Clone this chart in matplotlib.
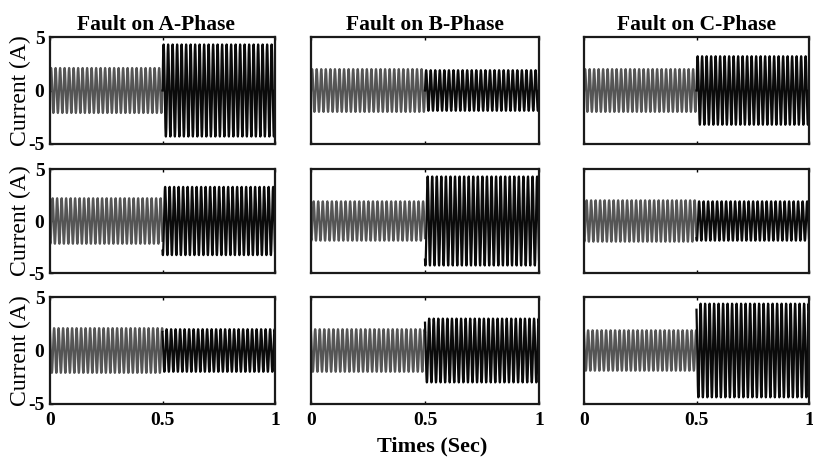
import numpy as np
import matplotlib
matplotlib.use("Agg")
import matplotlib.pyplot as plt

# Fault cases (columns) and measured phase currents (rows)
fault_titles = ["Fault on A-Phase", "Fault on B-Phase", "Fault on C-Phase"]
phase_rows = ["A", "B", "C"]

# Peak current (A) before and after fault inception at t = 0.5 s
pre_fault_amp = [
    [2.1, 2.0, 2.0],
    [2.2, 1.9, 2.0],
    [2.1, 2.0, 1.9],
]
post_fault_amp = [
    [4.3, 1.9, 3.2],
    [3.3, 4.3, 1.9],
    [2.0, 3.0, 4.4],
]

fault_time = 0.5
freq_hz = 50.0
sample_rate = 1000.0
x_ticks = [0, 0.5, 1]
x_tick_labels = ["0", "0.5", "1"]
y_ticks = [-5, 0, 5]
y_tick_labels = ["-5", "0", "5"]

W, H = 813, 462
fig = plt.figure(figsize=(W / 100, H / 100), dpi=100)

# axes boxes in pixels: (left, right) per column, (top, bottom) per row
col_px = [(50, 275), (311, 539), (584, 809)]
row_px = [(37, 144), (169, 273), (297, 404)]
title_x_shift = [-0.03, 0.0, 0.0]

serif = ["Liberation Serif", "DejaVu Serif"]
phase_offsets = [0.0, -2.0944, 2.0944]

for r in range(3):
    for c in range(3):
        l, rr = col_px[c]
        t, b = row_px[r]
        ax = fig.add_axes([l / W, 1 - b / H, (rr - l) / W, (b - t) / H])
        ph = phase_offsets[r]
        t_pre = np.arange(0, fault_time + 1e-9, 1 / sample_rate)
        t_post = np.arange(fault_time, 1 + 1e-9, 1 / sample_rate)
        y_pre = pre_fault_amp[r][c] * np.sin(2 * np.pi * freq_hz * t_pre + ph)
        y_post = post_fault_amp[r][c] * np.sin(2 * np.pi * freq_hz * t_post + ph)
        ax.plot(t_pre, y_pre, color="#555555", lw=1.6)
        ax.plot(t_post, y_post, color="#0a0a0a", lw=1.6)
        ax.set_xlim(0, 1)
        ax.set_ylim(-5, 5)
        ax.set_xticks(x_ticks)
        ax.set_yticks(y_ticks)
        ax.tick_params(direction="in", length=2, width=1, top=True, right=False)
        ax.tick_params(axis="x", pad=6)
        ax.tick_params(axis="y", pad=4)
        for s in ax.spines.values():
            s.set_linewidth(1.6)
            s.set_color("#1a1a1a")
        if r == 2:
            ax.set_xticklabels(x_tick_labels, fontfamily=serif, fontweight="bold",
                               fontsize=14)
        else:
            ax.set_xticklabels([])
        if c == 0:
            ax.set_yticklabels(y_tick_labels, fontfamily=serif, fontweight="bold",
                               fontsize=14)
            ax.set_ylabel("Current (A)", fontfamily=serif, fontsize=17, labelpad=-2)
        else:
            ax.set_yticklabels([])
            ax.tick_params(axis="y", length=0)
        if r == 0:
            ax.set_title(fault_titles[c], fontfamily=serif, fontweight="bold",
                         fontsize=15.5, pad=5, x=0.5 + title_x_shift[c])

fig.text(432 / W, 1 - 446 / H, "Times (Sec)", fontfamily=serif, fontweight="bold",
         fontsize=16, ha="center", va="center")

fig.savefig("out.png", dpi=100)
